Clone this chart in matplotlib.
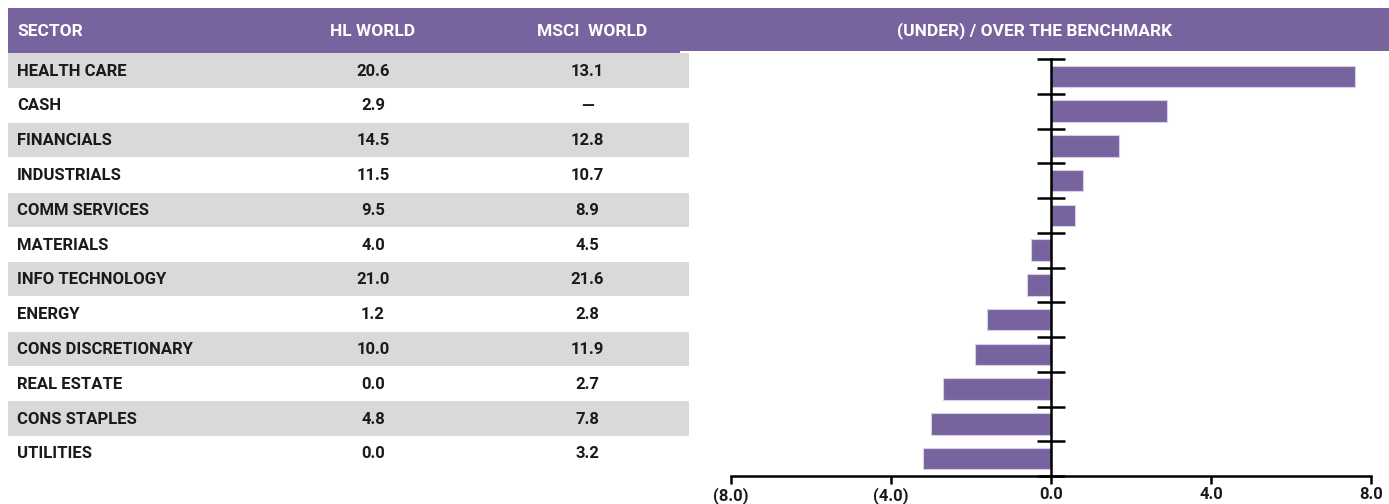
import matplotlib.pyplot as plt
from matplotlib.patches import Rectangle

sectors = ["HEALTH CARE", "CASH", "FINANCIALS", "INDUSTRIALS", "COMM SERVICES",
           "MATERIALS", "INFO TECHNOLOGY", "ENERGY", "CONS DISCRETIONARY",
           "REAL ESTATE", "CONS STAPLES", "UTILITIES"]
hl_world = ["20.6", "2.9", "14.5", "11.5", "9.5", "4.0", "21.0", "1.2", "10.0",
            "0.0", "4.8", "0.0"]
msci_world = ["13.1", "\u2014", "12.8", "10.7", "8.9", "4.5", "21.6", "2.8", "11.9",
              "2.7", "7.8", "3.2"]
# relative weight (under) / over the benchmark
diff = [7.6, 2.9, 1.7, 0.8, 0.6, -0.5, -0.6, -1.6, -1.9, -2.7, -3.0, -3.2]
xticks = [-8, -4, 0, 4, 8]
xlabels = ["(8.0)", "(4.0)", "0.0", "4.0", "8.0"]

purple = "#77649e"
grey = "#d9d9d9"
ink = "#1a1a1a"
font = "Roboto"

W, H = 1389, 504
fig = plt.figure(figsize=(W / 100, H / 100), dpi=100)

# table drawn in pixel coords
ax = fig.add_axes([0, 0, 1, 1])
ax.set_xlim(0, W)
ax.set_ylim(H, 0)
ax.axis("off")

ax.add_patch(Rectangle((8, 8), 672, 44.5, color=purple, lw=0))
ax.add_patch(Rectangle((678, 8), W - 678, 43, color=purple, lw=0))
hdr = dict(color="white", fontsize=12.5, fontweight="bold", family=font, va="center")
ax.text(17, 31, "SECTOR", ha="left", **hdr)
ax.text(373, 31, "HL WORLD", ha="center", **hdr)
ax.text(592, 31, "MSCI  WORLD", ha="center", **hdr)
ax.text(1035, 31, "(UNDER) / OVER THE BENCHMARK", ha="center", **hdr)

row_h = 34.8
top = 53.3
cell = dict(color=ink, fontsize=12, fontweight="bold", family=font, va="center")
for i, name in enumerate(sectors):
    y0 = top + i * row_h
    if i % 2 == 0:
        ax.add_patch(Rectangle((8, y0), 681, row_h - 0.6, color=grey, lw=0))
    yc = y0 + row_h / 2 + 0.5
    ax.text(17, yc, name, ha="left", **cell)
    ax.text(373, yc, hl_world[i], ha="center", **cell)
    ax.text(587, yc, msci_world[i], ha="center", **cell)

# bar chart
bx0, bx1 = 731, 1371
by0, by1 = 59, 476
bax = fig.add_axes([bx0 / W, (H - by1) / H, (bx1 - bx0) / W, (by1 - by0) / H])
bax.barh([i + 0.5 for i in range(len(diff))], diff, height=0.62, color=purple,
         edgecolor="#d8d0e8", linewidth=0.8, zorder=2)
bax.set_xlim(-8, 8)
bax.set_ylim(len(diff), 0)
bax.patch.set_alpha(0)
for s in ["top", "right"]:
    bax.spines[s].set_visible(False)
bax.spines["left"].set_position(("data", 0))
bax.spines["left"].set_linewidth(1.8)
bax.spines["left"].set_zorder(3)
bax.spines["bottom"].set_linewidth(1.8)
bax.set_yticks(range(len(diff) + 1))
bax.set_yticklabels([])
bax.tick_params(axis="y", direction="inout", length=20, width=1.8)
bax.set_xticks(xticks)
bax.set_xticklabels(xlabels, family=font, fontsize=12, fontweight="bold", color=ink)
bax.tick_params(axis="x", direction="out", length=6, width=1.8, pad=2)

fig.savefig("out.png", dpi=100)
